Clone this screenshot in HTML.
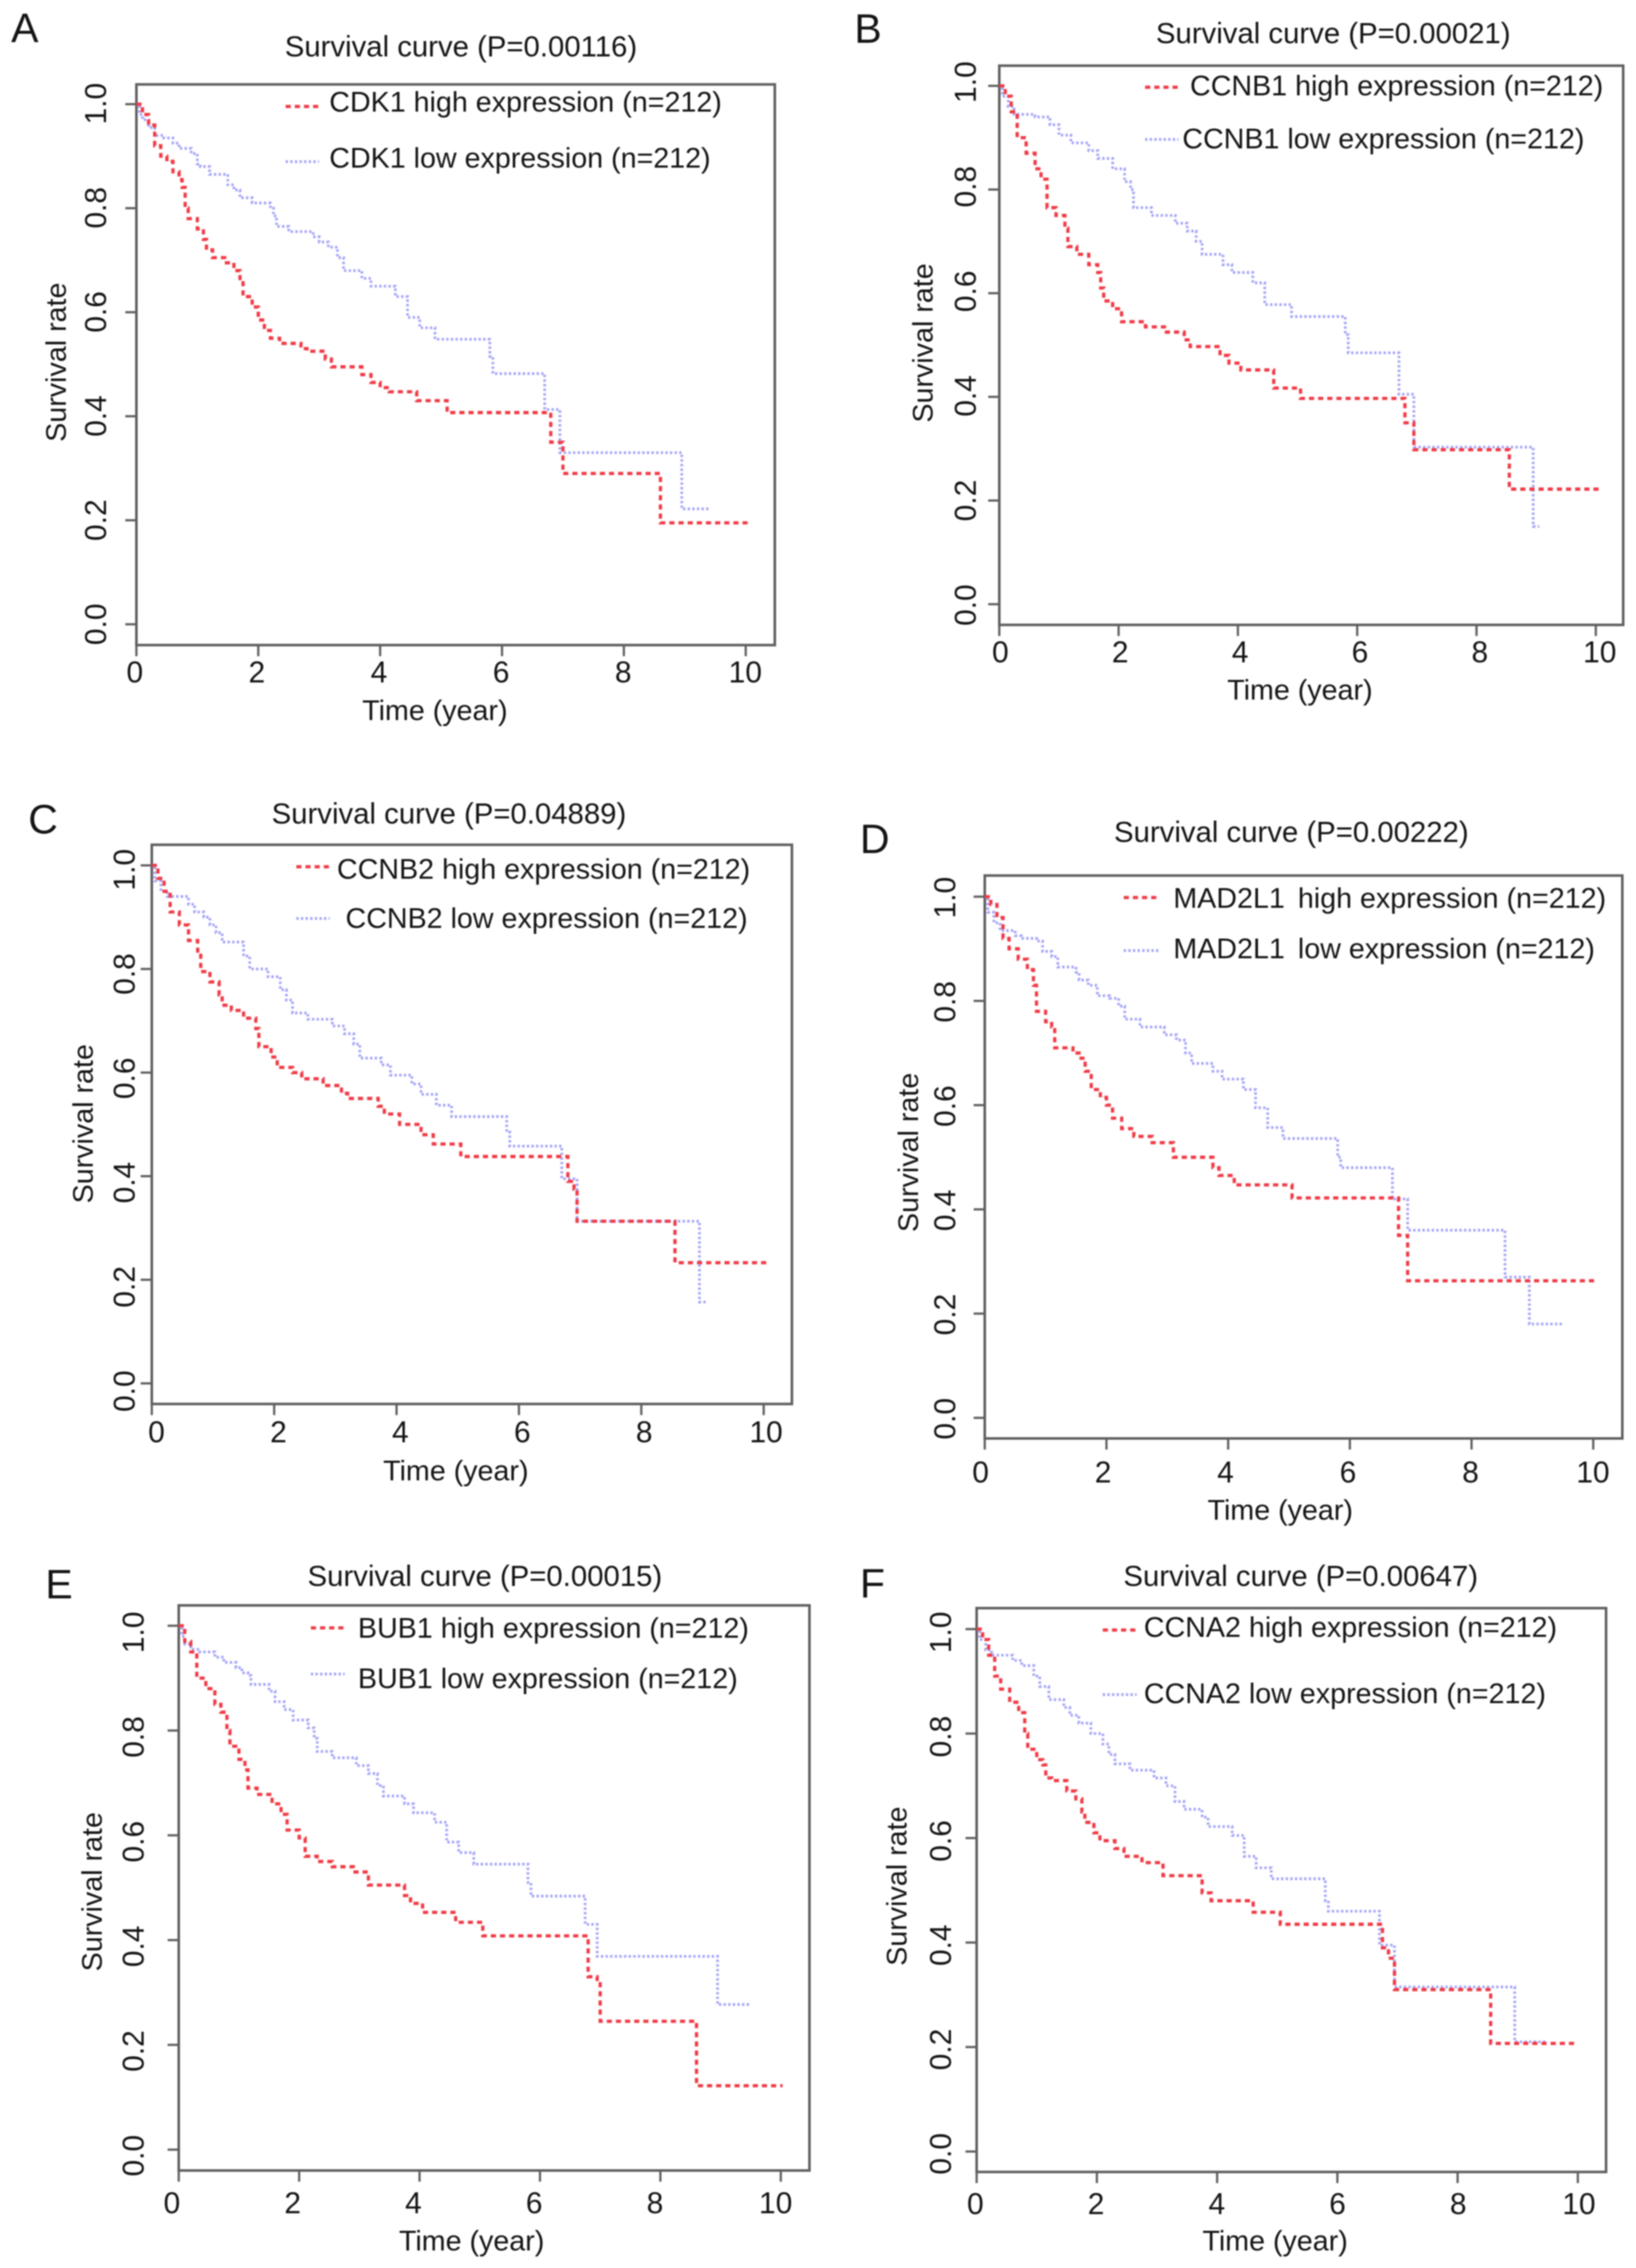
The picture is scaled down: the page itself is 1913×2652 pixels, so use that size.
<!DOCTYPE html>
<html lang="en">
<head>
<meta charset="utf-8">
<title>Survival curves</title>
<style>
html,body{margin:0;padding:0;background:#fff;}
#figure{display:block;filter:blur(.9px);}
text{font-family:"Liberation Sans",sans-serif;font-size:33.5px;fill:#141414;white-space:pre;}
.letter{font-size:48px;}
.title{font-size:34.3px;}
.ticklabel{font-size:35px;}
.mid{text-anchor:middle;}
.frame{fill:none;stroke:#5f5f5f;stroke-width:3;}
.tick{stroke:#5f5f5f;stroke-width:2.6;}
.high{fill:none;stroke:#f03b46;stroke-width:3.8;stroke-dasharray:6 4.7;}
.low{fill:none;stroke:#a3a3f7;stroke-width:3.2;stroke-dasharray:2.7 2.7;}
</style>
</head>
<body>
<svg id="figure" xmlns="http://www.w3.org/2000/svg" width="1913" height="2652" viewBox="0 0 1913 2652">
<rect x="0" y="0" width="1913" height="2652" fill="#fff"/>

<g id="panel-a">
<text class="letter" x="13" y="49">A</text>
<text class="mid title" x="539" y="66">Survival curve (P=0.00116)</text>
<line class="high" x1="334" x2="373" y1="124.5" y2="124.5"/>
<text x="385" y="130.5">CDK1 high expression (n=212)</text>
<line class="low" x1="334" x2="373" y1="189" y2="189"/>
<text x="385" y="196">CDK1 low expression (n=212)</text>
<text class="mid" x="508.5" y="842">Time (year)</text>
<text class="mid" transform="translate(77 423.5) rotate(-90)">Survival rate</text>
</g>

<g id="panel-b">
<text class="letter" x="999" y="50">B</text>
<text class="mid title" x="1559" y="50.5">Survival curve (P=0.00021)</text>
<line class="high" x1="1339" x2="1378" y1="102" y2="102"/>
<text x="1391.5" y="111.5">CCNB1 high expression (n=212)</text>
<line class="low" x1="1339" x2="1378" y1="163" y2="163"/>
<text x="1382.5" y="173.5">CCNB1 low expression (n=212)</text>
<text class="mid" x="1520" y="818">Time (year)</text>
<text class="mid" transform="translate(1090.5 401) rotate(-90)">Survival rate</text>
</g>

<g id="panel-c">
<text class="letter" x="33" y="974.5">C</text>
<text class="mid title" x="525" y="963">Survival curve (P=0.04889)</text>
<line class="high" x1="346.5" x2="385.5" y1="1013.5" y2="1013.5"/>
<text x="394" y="1027.5">CCNB2 high expression (n=212)</text>
<line class="low" x1="346.5" x2="385.5" y1="1074" y2="1074"/>
<text x="404" y="1085">CCNB2 low expression (n=212)</text>
<text class="mid" x="533" y="1731">Time (year)</text>
<text class="mid" transform="translate(108.5 1314) rotate(-90)">Survival rate</text>
</g>

<g id="panel-d">
<text class="letter" x="1005.5" y="997.5">D</text>
<text class="mid title" x="1510" y="984.5">Survival curve (P=0.00222)</text>
<line class="high" x1="1314" x2="1355" y1="1049.5" y2="1049.5"/>
<text x="1372" y="1061.5">MAD2L1 <tspan dx="6">high expression (n=212)</tspan></text>
<line class="low" x1="1314" x2="1355" y1="1111.5" y2="1111.5"/>
<text x="1372" y="1120.5">MAD2L1 <tspan dx="6">low expression (n=212)</tspan></text>
<text class="mid" x="1497" y="1777">Time (year)</text>
<text class="mid" transform="translate(1073.5 1347.5) rotate(-90)">Survival rate</text>
</g>

<g id="panel-e">
<text class="letter" x="53" y="1869">E</text>
<text class="mid title" x="567" y="1854.5">Survival curve (P=0.00015)</text>
<line class="high" x1="363.5" x2="403" y1="1903.5" y2="1903.5"/>
<text x="418.5" y="1915">BUB1 high expression (n=212)</text>
<line class="low" x1="363.5" x2="403" y1="1957.5" y2="1957.5"/>
<text x="418.5" y="1974">BUB1 low expression (n=212)</text>
<text class="mid" x="551.5" y="2631.5">Time (year)</text>
<text class="mid" transform="translate(119 2212) rotate(-90)">Survival rate</text>
</g>

<g id="panel-f">
<text class="letter" x="1005.5" y="1868">F</text>
<text class="mid title" x="1521" y="1854.5">Survival curve (P=0.00647)</text>
<line class="high" x1="1289.5" x2="1329" y1="1906" y2="1906"/>
<text x="1337.5" y="1914">CCNA2 high expression (n=212)</text>
<line class="low" x1="1289.5" x2="1329" y1="1981.5" y2="1981.5"/>
<text x="1337.5" y="1991.5">CCNA2 low expression (n=212)</text>
<text class="mid" x="1491" y="2631.5">Time (year)</text>
<text class="mid" transform="translate(1060 2205.5) rotate(-90)">Survival rate</text>
</g>
</svg>

<script>
const xTicks = [0, 2, 4, 6, 8, 10];
const yTicks = [0, 0.2, 0.4, 0.6, 0.8, 1];
const yTickLabels = ["0.0", "0.2", "0.4", "0.6", "0.8", "1.0"];

const cdk1HighTime = [0,.1,.2,.3,.4,.5,.6,.7,.75,.8,.85,1,1.1,1.15,1.25,1.45,1.6,1.7,1.75,1.9,2,2.1,2.2,2.35,2.7,2.8,3.1,3.2,3.7,3.85,4,4.15,4.6,5.1,6.8,7,8.6,10.03];
const cdk1HighSurv = [1,.98,.96,.92,.9,.89,.87,.855,.84,.8,.78,.76,.74,.72,.705,.695,.68,.66,.63,.61,.585,.565,.55,.54,.53,.525,.51,.495,.48,.465,.455,.447,.43,.407,.35,.29,.195,.195];
const cdk1LowTime = [0,.05,.1,.2,.3,.45,.6,.7,.9,1,1.05,1.2,1.5,1.6,1.7,1.9,2.2,2.25,2.3,2.5,2.9,3,3.15,3.3,3.4,3.7,3.85,4.25,4.45,4.65,4.9,5.8,5.85,6.7,6.95,8.95,9.4];
const cdk1LowSurv = [1,.98,.97,.955,.94,.935,.925,.915,.905,.885,.88,.865,.845,.835,.82,.81,.8,.785,.765,.755,.745,.735,.725,.705,.68,.665,.65,.63,.59,.57,.548,.515,.482,.413,.33,.222,.222];

const ccnb1HighTime = [0,.1,.2,.3,.45,.6,.7,.8,.95,1.1,1.15,1.3,1.5,1.65,1.7,1.75,1.9,2.05,2.45,2.8,3.1,3.2,3.7,3.85,4.05,4.6,5.05,6.8,6.95,8.55,10.05];
const ccnb1HighSurv = [1,.98,.95,.9,.87,.84,.82,.765,.75,.725,.69,.675,.655,.64,.61,.585,.57,.545,.535,.525,.51,.497,.48,.465,.452,.417,.397,.35,.298,.222,.222];
const ccnb1LowTime = [0,.05,.15,.25,.6,.85,1,1.2,1.5,1.65,1.9,2.1,2.2,2.25,2.55,2.95,3.15,3.3,3.4,3.75,3.9,4.25,4.45,4.9,5.8,5.85,6.7,6.95,8.95,9.05];
const ccnb1LowSurv = [1,.98,.96,.945,.94,.925,.905,.89,.875,.86,.84,.815,.8,.765,.75,.735,.72,.7,.675,.655,.64,.62,.578,.555,.52,.485,.405,.303,.15,.15];

const ccnb2HighTime = [0,.1,.2,.3,.45,.6,.75,.8,.95,1.1,1.15,1.3,1.5,1.7,1.75,1.95,2.05,2.3,2.45,2.8,3.1,3.2,3.7,3.8,4.05,4.4,4.6,5.05,6.8,6.9,6.95,8.55,10.08];
const ccnb2HighSurv = [1,.975,.95,.91,.885,.855,.83,.795,.775,.75,.73,.72,.705,.685,.65,.63,.61,.6,.588,.575,.56,.55,.535,.52,.5,.48,.462,.438,.39,.375,.313,.233,.233];
const ccnb2LowTime = [0,.05,.15,.25,.6,.7,.85,.95,1.05,1.15,1.5,1.6,1.9,2.1,2.2,2.3,2.55,2.95,3.15,3.3,3.4,3.75,3.9,4.25,4.4,4.65,4.9,5.8,5.85,6.7,6.95,8.95,9.05];
const ccnb2LowSurv = [1,.97,.95,.94,.925,.91,.9,.885,.87,.852,.825,.8,.785,.76,.74,.715,.703,.69,.675,.655,.628,.615,.595,.578,.558,.537,.515,.485,.458,.395,.313,.157,.157];

const mad2l1HighTime = [0,.1,.2,.3,.4,.55,.7,.8,.85,1,1.1,1.15,1.45,1.55,1.65,1.75,1.9,2,2.1,2.25,2.45,2.75,3.1,3.75,3.85,4.1,5.05,6.8,6.95,10.03];
const mad2l1HighSurv = [1,.985,.96,.92,.9,.88,.86,.83,.78,.76,.75,.71,.7,.69,.665,.63,.615,.6,.575,.555,.54,.528,.5,.48,.465,.447,.422,.35,.263,.263];
const mad2l1LowTime = [0,.05,.15,.25,.5,.6,.85,.95,1.1,1.2,1.5,1.55,1.7,1.85,2.05,2.2,2.3,2.55,2.95,3.15,3.3,3.4,3.75,3.9,4.25,4.45,4.65,4.9,5.8,5.85,6.7,6.95,8.55,8.95,9.5];
const mad2l1LowSurv = [1,.97,.95,.935,.925,.92,.915,.895,.885,.865,.855,.84,.83,.81,.805,.79,.765,.75,.735,.725,.7,.68,.665,.65,.63,.595,.557,.536,.5,.48,.42,.36,.27,.18,.18];

const bub1HighTime = [0,.1,.2,.3,.45,.6,.7,.8,.85,1,1.1,1.15,1.3,1.55,1.7,1.8,2,2.1,2.3,2.55,2.9,3.15,3.75,3.85,4.05,4.6,5.05,6.8,6.95,7,8.6,10.03];
const bub1HighSurv = [1,.97,.95,.9,.88,.85,.835,.8,.77,.745,.725,.69,.678,.66,.64,.61,.595,.56,.55,.54,.53,.505,.485,.47,.453,.434,.408,.33,.32,.245,.122,.122];
const bub1LowTime = [0,.05,.1,.2,.35,.6,.75,.95,1.05,1.15,1.2,1.5,1.6,1.75,1.9,2.15,2.25,2.3,2.55,2.95,3.15,3.3,3.4,3.75,3.9,4.25,4.45,4.65,4.9,5.8,5.85,6.75,6.95,8.95,9.5];
const bub1LowSurv = [1,.98,.965,.955,.95,.94,.93,.92,.91,.905,.888,.875,.855,.84,.82,.805,.785,.76,.748,.733,.718,.695,.675,.66,.643,.625,.587,.567,.545,.51,.484,.43,.369,.277,.277];

const ccna2HighTime = [0,.1,.2,.3,.4,.55,.7,.8,.85,1,1.1,1.15,1.25,1.5,1.65,1.75,1.8,1.95,2.05,2.3,2.45,2.75,3.1,3.75,3.9,4.6,5.05,6.75,6.85,6.95,8.55,10];
const ccna2HighSurv = [1,.98,.95,.91,.885,.86,.84,.8,.77,.75,.74,.715,.71,.69,.675,.65,.63,.61,.595,.58,.565,.553,.528,.495,.48,.458,.435,.39,.37,.31,.207,.207];
const ccna2LowTime = [0,.05,.15,.25,.6,.75,.95,1.05,1.2,1.45,1.55,1.7,1.9,2.1,2.2,2.3,2.55,2.95,3.15,3.3,3.45,3.75,3.85,4.25,4.45,4.65,4.9,5.8,5.85,6.7,6.95,8.95,9.5];
const ccna2LowSurv = [1,.98,.96,.95,.94,.93,.91,.89,.865,.85,.835,.82,.8,.78,.76,.742,.73,.715,.7,.67,.655,.64,.622,.605,.565,.543,.522,.48,.46,.395,.315,.21,.21];

const NS = "http://www.w3.org/2000/svg";

function scaleLinear(d0, d1, r0, r1) {
  return function (v) { return r0 + (v - d0) * (r1 - r0) / (d1 - d0); };
}

function stepPath(times, surv, sx, sy) {
  const n = Math.min(times.length, surv.length);
  let d = "M" + sx(times[0]).toFixed(2) + " " + sy(surv[0]).toFixed(2);
  for (let i = 1; i < n; i++) {
    d += "L" + sx(times[i]).toFixed(2) + " " + sy(surv[i - 1]).toFixed(2);
    d += "L" + sx(times[i]).toFixed(2) + " " + sy(surv[i]).toFixed(2);
  }
  return d;
}

function drawPanel(p) {
  const g = document.getElementById(p.id);
  const sx = scaleLinear(0, 10, p.left, p.x10);
  const sy = scaleLinear(0, 1, p.y0, p.y1);
  const lx = scaleLinear(0, 10, p.xLabel0, p.xLabel10);
  const ly = scaleLinear(0, 1, p.yLabel0, p.yLabel1);

  const frame = document.createElementNS(NS, "rect");
  frame.setAttribute("class", "frame");
  frame.setAttribute("x", p.left);
  frame.setAttribute("y", p.top);
  frame.setAttribute("width", p.right - p.left);
  frame.setAttribute("height", p.bottom - p.top);
  
  
  g.appendChild(frame);

  xTicks.forEach(function (v) {
    const t = document.createElementNS(NS, "line");
    t.setAttribute("class", "tick");
    t.setAttribute("x1", sx(v));
    t.setAttribute("x2", sx(v));
    t.setAttribute("y1", p.bottom);
    t.setAttribute("y2", p.bottom + 13);
    
    
    g.appendChild(t);
    const l = document.createElementNS(NS, "text");
    l.setAttribute("class", "mid ticklabel");
    l.setAttribute("x", lx(v));
    l.setAttribute("y", p.xLabelY);
    l.textContent = String(v);
    
    
    g.appendChild(l);
  });

  yTicks.forEach(function (v, i) {
    const t = document.createElementNS(NS, "line");
    t.setAttribute("class", "tick");
    t.setAttribute("x1", p.left - 13);
    t.setAttribute("x2", p.left);
    t.setAttribute("y1", sy(v));
    t.setAttribute("y2", sy(v));
    
    
    g.appendChild(t);
    const l = document.createElementNS(NS, "text");
    l.setAttribute("class", "mid ticklabel");
    l.setAttribute("transform", "translate(" + p.yLabelX + " " + ly(v) + ") rotate(-90)");
    l.textContent = yTickLabels[i];
    
    
    g.appendChild(l);
  });

  const low = document.createElementNS(NS, "path");
  low.setAttribute("class", "low");
  low.setAttribute("d", stepPath(p.lowTime, p.lowSurv, sx, sy));
  
  
  g.appendChild(low);

  const high = document.createElementNS(NS, "path");
  high.setAttribute("class", "high");
  high.setAttribute("d", stepPath(p.highTime, p.highSurv, sx, sy));
  
  
  g.appendChild(high);
}

drawPanel({id:"panel-a", left:159.5, right:906, top:98.7, bottom:754.3, x10:872, y0:730, y1:121.8, xLabelY:798, yLabelX:124, xLabel0:157.6, xLabel10:871.5, yLabel0:730, yLabel1:121.2, highTime:cdk1HighTime, highSurv:cdk1HighSurv, lowTime:cdk1LowTime, lowSurv:cdk1LowSurv});
drawPanel({id:"panel-b", left:1168.5, right:1898, top:76.8, bottom:730.7, x10:1866, y0:706.5, y1:100.4, xLabelY:774.5, yLabelX:1141, xLabel0:1169.7, xLabel10:1870.6, yLabel0:707.6, yLabel1:96, highTime:ccnb1HighTime, highSurv:ccnb1HighSurv, lowTime:ccnb1LowTime, lowSurv:ccnb1LowSurv});
drawPanel({id:"panel-c", left:177.5, right:926, top:987.8, bottom:1641.7, x10:893, y0:1617.6, y1:1011.9, xLabelY:1686.5, yLabelX:157.5, xLabel0:183, xLabel10:895.8, yLabel0:1626.7, yLabel1:1017, highTime:ccnb2HighTime, highSurv:ccnb2HighSurv, lowTime:ccnb2LowTime, lowSurv:ccnb2LowSurv});
drawPanel({id:"panel-d", left:1151.5, right:1897, top:1023.8, bottom:1682, x10:1863, y0:1657.9, y1:1048.5, xLabelY:1733.5, yLabelX:1117, xLabel0:1146.6, xLabel10:1862.7, yLabel0:1659, yLabel1:1049.6, highTime:mad2l1HighTime, highSurv:mad2l1HighSurv, lowTime:mad2l1LowTime, lowSurv:mad2l1LowSurv});
drawPanel({id:"panel-e", left:209, right:946.5, top:1877.2, bottom:2538, x10:913, y0:2513.6, y1:1901, xLabelY:2588, yLabelX:168, xLabel0:201, xLabel10:907, yLabel0:2520.7, yLabel1:1908.7, highTime:bub1HighTime, highSurv:bub1HighSurv, lowTime:bub1LowTime, lowSurv:bub1LowSurv});
drawPanel({id:"panel-f", left:1142, right:1878, top:1880.4, bottom:2539.7, x10:1845, y0:2515.8, y1:1904.9, xLabelY:2589, yLabelX:1112, xLabel0:1140.5, xLabel10:1846.3, yLabel0:2518.5, yLabel1:1908.7, highTime:ccna2HighTime, highSurv:ccna2HighSurv, lowTime:ccna2LowTime, lowSurv:ccna2LowSurv});
</script>
</body>
</html>
